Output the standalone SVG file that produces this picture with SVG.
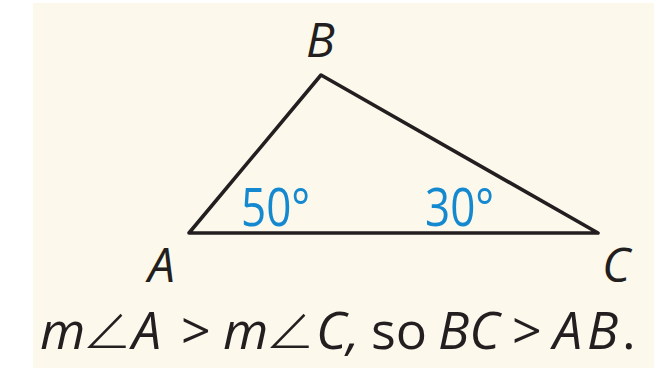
<svg xmlns="http://www.w3.org/2000/svg" width="654" height="368" viewBox="0 0 654 368">
  <style>
    .bg { fill: #fcf9ec; }
    .edge { fill: none; stroke: #231f20; stroke-width: 3.6; stroke-linejoin: round; stroke-linecap: round; }
    .vlabel { font-family: "Open Sans", "Noto Sans", sans-serif; font-style: italic; font-size: 48px; fill: #231f20; }
    .angle { font-family: "Open Sans", "Noto Sans", sans-serif; font-size: 44px; fill: #1589d0; }
    .caption { font-family: "Open Sans", "Noto Sans", "DejaVu Sans", sans-serif; font-size: 52px; fill: #231f20; }
    .it { font-style: italic; }
    .ang { font-family: "Noto Sans CJK JP", "DejaVu Sans", sans-serif; font-weight: 300; font-size: 50px; }
  </style>
  <rect class="bg" x="33" y="3" width="621" height="365"/>
  <g id="connectors">
    <path id="triangle" class="edge" d="M189,233 L321,75 L598,233 Z"/>
  </g>
  <g id="vertex-B"><text class="vlabel" x="306" y="57">B</text></g>
  <g id="vertex-A"><text class="vlabel" x="148" y="282">A</text></g>
  <g id="vertex-C"><text class="vlabel" x="602" y="282">C</text></g>
  <g id="angle-A"><text class="angle" transform="translate(241,226) scale(1,1.21)">50°</text></g>
  <g id="angle-C"><text class="angle" transform="translate(425,226) scale(1,1.21)">30°</text></g>
  <g id="caption">
    <text class="caption" y="349"><tspan class="it" x="40">m</tspan><tspan class="ang" x="82">∠</tspan><tspan class="it" x="132">A</tspan><tspan x="181">&gt;</tspan><tspan class="it" x="223">m</tspan><tspan class="ang" x="265">∠</tspan><tspan class="it" x="316">C,</tspan><tspan x="371">so</tspan><tspan class="it" x="438">BC</tspan><tspan x="512">&gt;</tspan><tspan class="it" x="553">A</tspan><tspan class="it" x="587">B</tspan><tspan x="622">.</tspan></text>
  </g>
</svg>
